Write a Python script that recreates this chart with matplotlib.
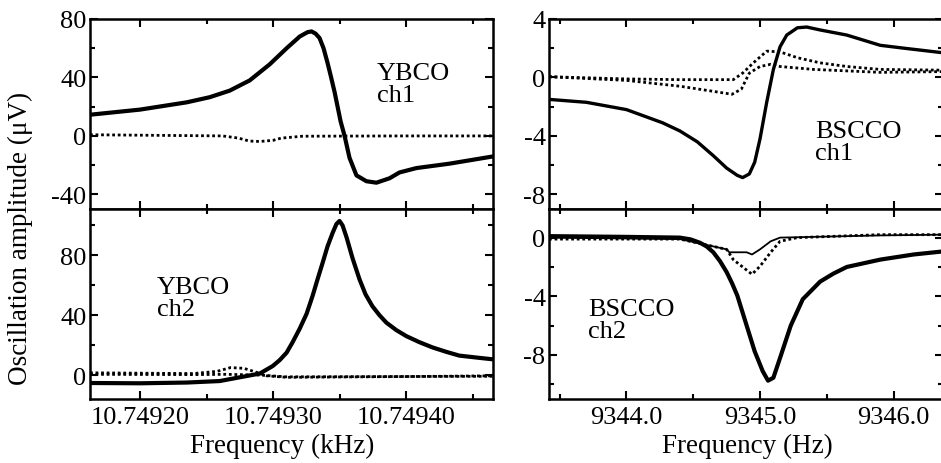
import matplotlib
matplotlib.use("Agg")
import matplotlib.pyplot as plt
from matplotlib.ticker import MultipleLocator, FixedLocator

plt.rcParams['font.family'] = ['Liberation Serif', 'DejaVu Serif']
plt.rcParams['axes.unicode_minus'] = False

# ---------------- data ----------------
# YBCO ch1 (kHz, µV)
ybco1_solid_x = [10.7491625, 10.7492000, 10.7492352, 10.7492524, 10.7492674, 10.7492824,
                 10.7492974, 10.7493101, 10.7493199, 10.7493258, 10.7493288, 10.7493318,
                 10.7493348, 10.7493378, 10.7493408, 10.7493435, 10.7493461, 10.7493506,
                 10.7493536, 10.7493573, 10.7493625, 10.7493700, 10.7493775, 10.7493873,
                 10.7493948, 10.7494075, 10.7494322, 10.7494652]
ybco1_solid_y = [14.5, 18, 23, 26.5, 31, 38,
                 49, 60, 68, 71, 71.5, 70,
                 67, 60, 50, 40, 30, 10,
                 0, -15, -27, -31, -32, -29,
                 -25, -22, -19, -14]
ybco1_dot_x = [10.7491625, 10.749200, 10.749262, 10.749274, 10.749282, 10.749290,
               10.749300, 10.749306, 10.749322, 10.749400, 10.7494652]
ybco1_dot_y = [0.8, 0.5, 0.0, -1.5, -3.5, -3.8, -3.0, -1.5, -0.2, 0.0, 0.0]

# YBCO ch2
ybco2_solid_x = [10.7491625, 10.7492000, 10.7492352, 10.7492599, 10.7492749, 10.7492899,
                 10.7492996, 10.7493049, 10.7493101, 10.7493146, 10.7493199, 10.7493251,
                 10.7493296, 10.7493333, 10.7493371, 10.7493408, 10.7493446, 10.7493475,
                 10.7493498, 10.7493521, 10.7493551, 10.7493596, 10.7493648, 10.7493693,
                 10.7493745, 10.7493798, 10.7493850, 10.7493925, 10.7494000, 10.7494097,
                 10.7494195, 10.7494300, 10.7494397, 10.7494547, 10.7494652]
ybco2_solid_y = [-5.3, -5.5, -5, -4, -1.5, 1,
                 6, 10, 15, 22, 31, 41,
                 53, 64, 75, 86, 95, 101,
                 103, 100, 92, 78, 64, 54,
                 46, 40, 35, 30, 26, 22,
                 18.5, 15.5, 13, 11.5, 10.5]
ybco2_dotA_x = [10.7491625, 10.749240, 10.749258, 10.749268, 10.749278, 10.749287,
                10.749295, 10.749310, 10.749400, 10.7494652]
ybco2_dotA_y = [1.5, 1.0, 2.5, 5.0, 4.5, 2.0, -0.5, -1.5, -1.0, -0.5]
ybco2_dotB_x = [10.7491625, 10.749240, 10.749265, 10.749290, 10.749310, 10.7494652]
ybco2_dotB_y = [0.5, 0.3, 0.5, 0.0, -1.2, -0.8]

# BSCCO ch1 (Hz, µV)
bscco1_solid_x = [9343.42, 9343.70, 9344.00, 9344.27, 9344.40, 9344.53, 9344.65, 9344.75,
                  9344.83, 9344.87, 9344.92, 9344.96, 9345.00, 9345.05, 9345.10, 9345.15,
                  9345.20, 9345.28, 9345.35, 9345.45, 9345.65, 9345.90, 9346.08, 9346.36]
bscco1_solid_y = [-1.5, -1.7, -2.2, -3.1, -3.66, -4.4, -5.35, -6.2,
                  -6.7, -6.85, -6.6, -5.8, -4.2, -1.7, 0.55, 2.1,
                  2.9, 3.4, 3.45, 3.25, 2.9, 2.2, 2.0, 1.7]
bscco1_dotA_x = [9343.42, 9344.00, 9344.40, 9344.80, 9344.87, 9344.95, 9345.05, 9345.15,
                 9345.28, 9345.45, 9345.65, 9345.90, 9346.36]
bscco1_dotA_y = [0.05, -0.1, -0.15, -0.15, 0.3, 1.0, 1.8, 1.75,
                 1.35, 1.0, 0.75, 0.55, 0.5]
bscco1_dotB_x = [9343.42, 9344.00, 9344.40, 9344.65, 9344.79, 9344.86, 9344.92, 9345.00,
                 9345.08, 9345.15, 9345.40, 9345.90, 9346.36]
bscco1_dotB_y = [0.05, -0.2, -0.6, -0.95, -1.15, -0.8, 0.3, 0.75,
                 0.9, 0.75, 0.55, 0.35, 0.4]

# BSCCO ch2
bscco2_solid_x = [9343.42, 9344.00, 9344.40, 9344.48, 9344.55, 9344.60, 9344.65, 9344.70,
                  9344.75, 9344.79, 9344.83, 9344.90, 9344.96, 9345.02, 9345.06, 9345.10,
                  9345.15, 9345.23, 9345.32, 9345.45, 9345.55, 9345.65, 9345.90, 9346.15,
                  9346.36]
bscco2_solid_y = [0.1, 0.05, 0.0, -0.12, -0.35, -0.6, -1.0, -1.6,
                  -2.35, -3.1, -3.95, -6.0, -7.75, -9.1, -9.75, -9.55,
                  -8.2, -6.0, -4.2, -3.0, -2.45, -2.0, -1.5, -1.15,
                  -0.95]
bscco2_dot_x = [9343.42, 9344.40, 9344.75, 9344.80, 9344.87, 9344.94, 9345.00, 9345.08,
                9345.15, 9345.28, 9345.90, 9346.36]
bscco2_dot_y = [-0.1, -0.1, -0.8, -1.5, -2.0, -2.5, -1.95, -1.0,
                -0.25, 0.0, 0.2, 0.2]
bscco2_thin_x = [9343.42, 9344.40, 9344.75, 9344.77, 9344.90, 9344.94, 9345.00, 9345.08,
                 9345.15, 9345.90, 9346.36]
bscco2_thin_y = [0.0, -0.1, -0.8, -1.0, -1.0, -1.15, -0.8, -0.25,
                 0.0, 0.15, 0.2]

left_xticks = [10.7492, 10.7493, 10.7494]
left_xlabels = ['10.74920', '10.74930', '10.74940']
right_xticks = [9344.0, 9345.0, 9346.0]
right_xlabels = ['9344.0', '9345.0', '9346.0']

# ---------------- figure ----------------
W, H = 941, 464
fig = plt.figure(figsize=(W / 100, H / 100), dpi=100)


def box(x0, y0, x1, y1):
    return [x0 / W, 1 - y1 / H, (x1 - x0) / W, (y1 - y0) / H]


ax_tl = fig.add_axes(box(90, 20, 493, 210))
ax_bl = fig.add_axes(box(90, 210, 493, 400))
ax_tr = fig.add_axes(box(549, 20, 943, 210))
ax_br = fig.add_axes(box(549, 210, 943, 400))

solid_kw = dict(color='black', lw=3.0, solid_capstyle='round', solid_joinstyle='round')
dot_kw = dict(color='black', lw=2.0, linestyle=(0, (1.0, 1.0)))

ax_tl.plot(ybco1_dot_x, ybco1_dot_y, **dot_kw)
ax_tl.plot(ybco1_solid_x, ybco1_solid_y, **solid_kw)
ax_bl.plot(ybco2_dotA_x, ybco2_dotA_y, **dot_kw)
ax_bl.plot(ybco2_dotB_x, ybco2_dotB_y, **dot_kw)
ax_bl.plot(ybco2_solid_x, ybco2_solid_y, **solid_kw)
ax_tr.plot(bscco1_dotA_x, bscco1_dotA_y, **dot_kw)
ax_tr.plot(bscco1_dotB_x, bscco1_dotB_y, **dot_kw)
ax_tr.plot(bscco1_solid_x, bscco1_solid_y, color='black', lw=2.4,
           solid_joinstyle='round', solid_capstyle='round')
ax_br.plot(bscco2_dot_x, bscco2_dot_y, **dot_kw)
ax_br.plot(bscco2_thin_x, bscco2_thin_y, color='black', lw=1.3)
ax_br.plot(bscco2_solid_x, bscco2_solid_y, **solid_kw)

ax_tl.set_ylim(-50, 80)
ax_bl.set_ylim(-16, 111)
ax_tr.set_ylim(-9, 4)
ax_br.set_ylim(-11, 1.95)
for a in (ax_tl, ax_bl):
    a.set_xlim(10.7491625, 10.7494650)
for a in (ax_tr, ax_br):
    a.set_xlim(9343.42, 9346.37)

yt = {ax_tl: ([80, 40, 0, -40], 20), ax_bl: ([0, 40, 80], 20),
      ax_tr: ([4, 0, -4, -8], 2), ax_br: ([0, -4, -8], 2)}

for a, (ticks, minor) in yt.items():
    a.yaxis.set_major_locator(FixedLocator(ticks))
    a.set_yticklabels([f'{t:d}' for t in ticks])
    a.yaxis.set_minor_locator(MultipleLocator(minor))

for a in (ax_tl, ax_bl):
    a.set_xticks(left_xticks)
    a.xaxis.set_minor_locator(MultipleLocator(0.00005))
for a in (ax_tr, ax_br):
    a.set_xticks(right_xticks)
    a.xaxis.set_minor_locator(MultipleLocator(0.5))
ax_bl.set_xticklabels(left_xlabels)
ax_br.set_xticklabels(right_xlabels)

for a in (ax_tl, ax_bl, ax_tr, ax_br):
    for s in a.spines.values():
        s.set_linewidth(1.8)
    a.tick_params(which='both', direction='in', top=True, right=True,
                  width=1.5, labelsize=19, pad=2.5)
    a.tick_params(which='major', length=6)
    a.tick_params(which='minor', length=3.5)
    a.tick_params(axis='x', which='both', pad=5)
for a in (ax_tl, ax_tr):
    a.tick_params(axis='x', labelbottom=False)

txt_kw = dict(fontsize=19, ha='left', va='center', linespacing=1.0)
fig.text(377 / W, 1 - 85 / H, 'YBCO\nch1', **txt_kw)
fig.text(157 / W, 1 - 299 / H, 'YBCO\nch2', **txt_kw)
fig.text(815 / W, 1 - 143 / H, 'BSCCO\nch1', **txt_kw)
fig.text(588 / W, 1 - 321 / H, 'BSCCO\nch2', **txt_kw)

fig.text(282 / W, 1 - 446 / H, 'Frequency (kHz)', fontsize=19.5, ha='center', va='center')
fig.text(747 / W, 1 - 446 / H, 'Frequency (Hz)', fontsize=19.5, ha='center', va='center')
fig.text(20 / W, 1 - 238 / H, 'Oscillation amplitude (μV)', fontsize=19.5,
         rotation=90, ha='center', va='center')

fig.savefig('out.png', dpi=100)
